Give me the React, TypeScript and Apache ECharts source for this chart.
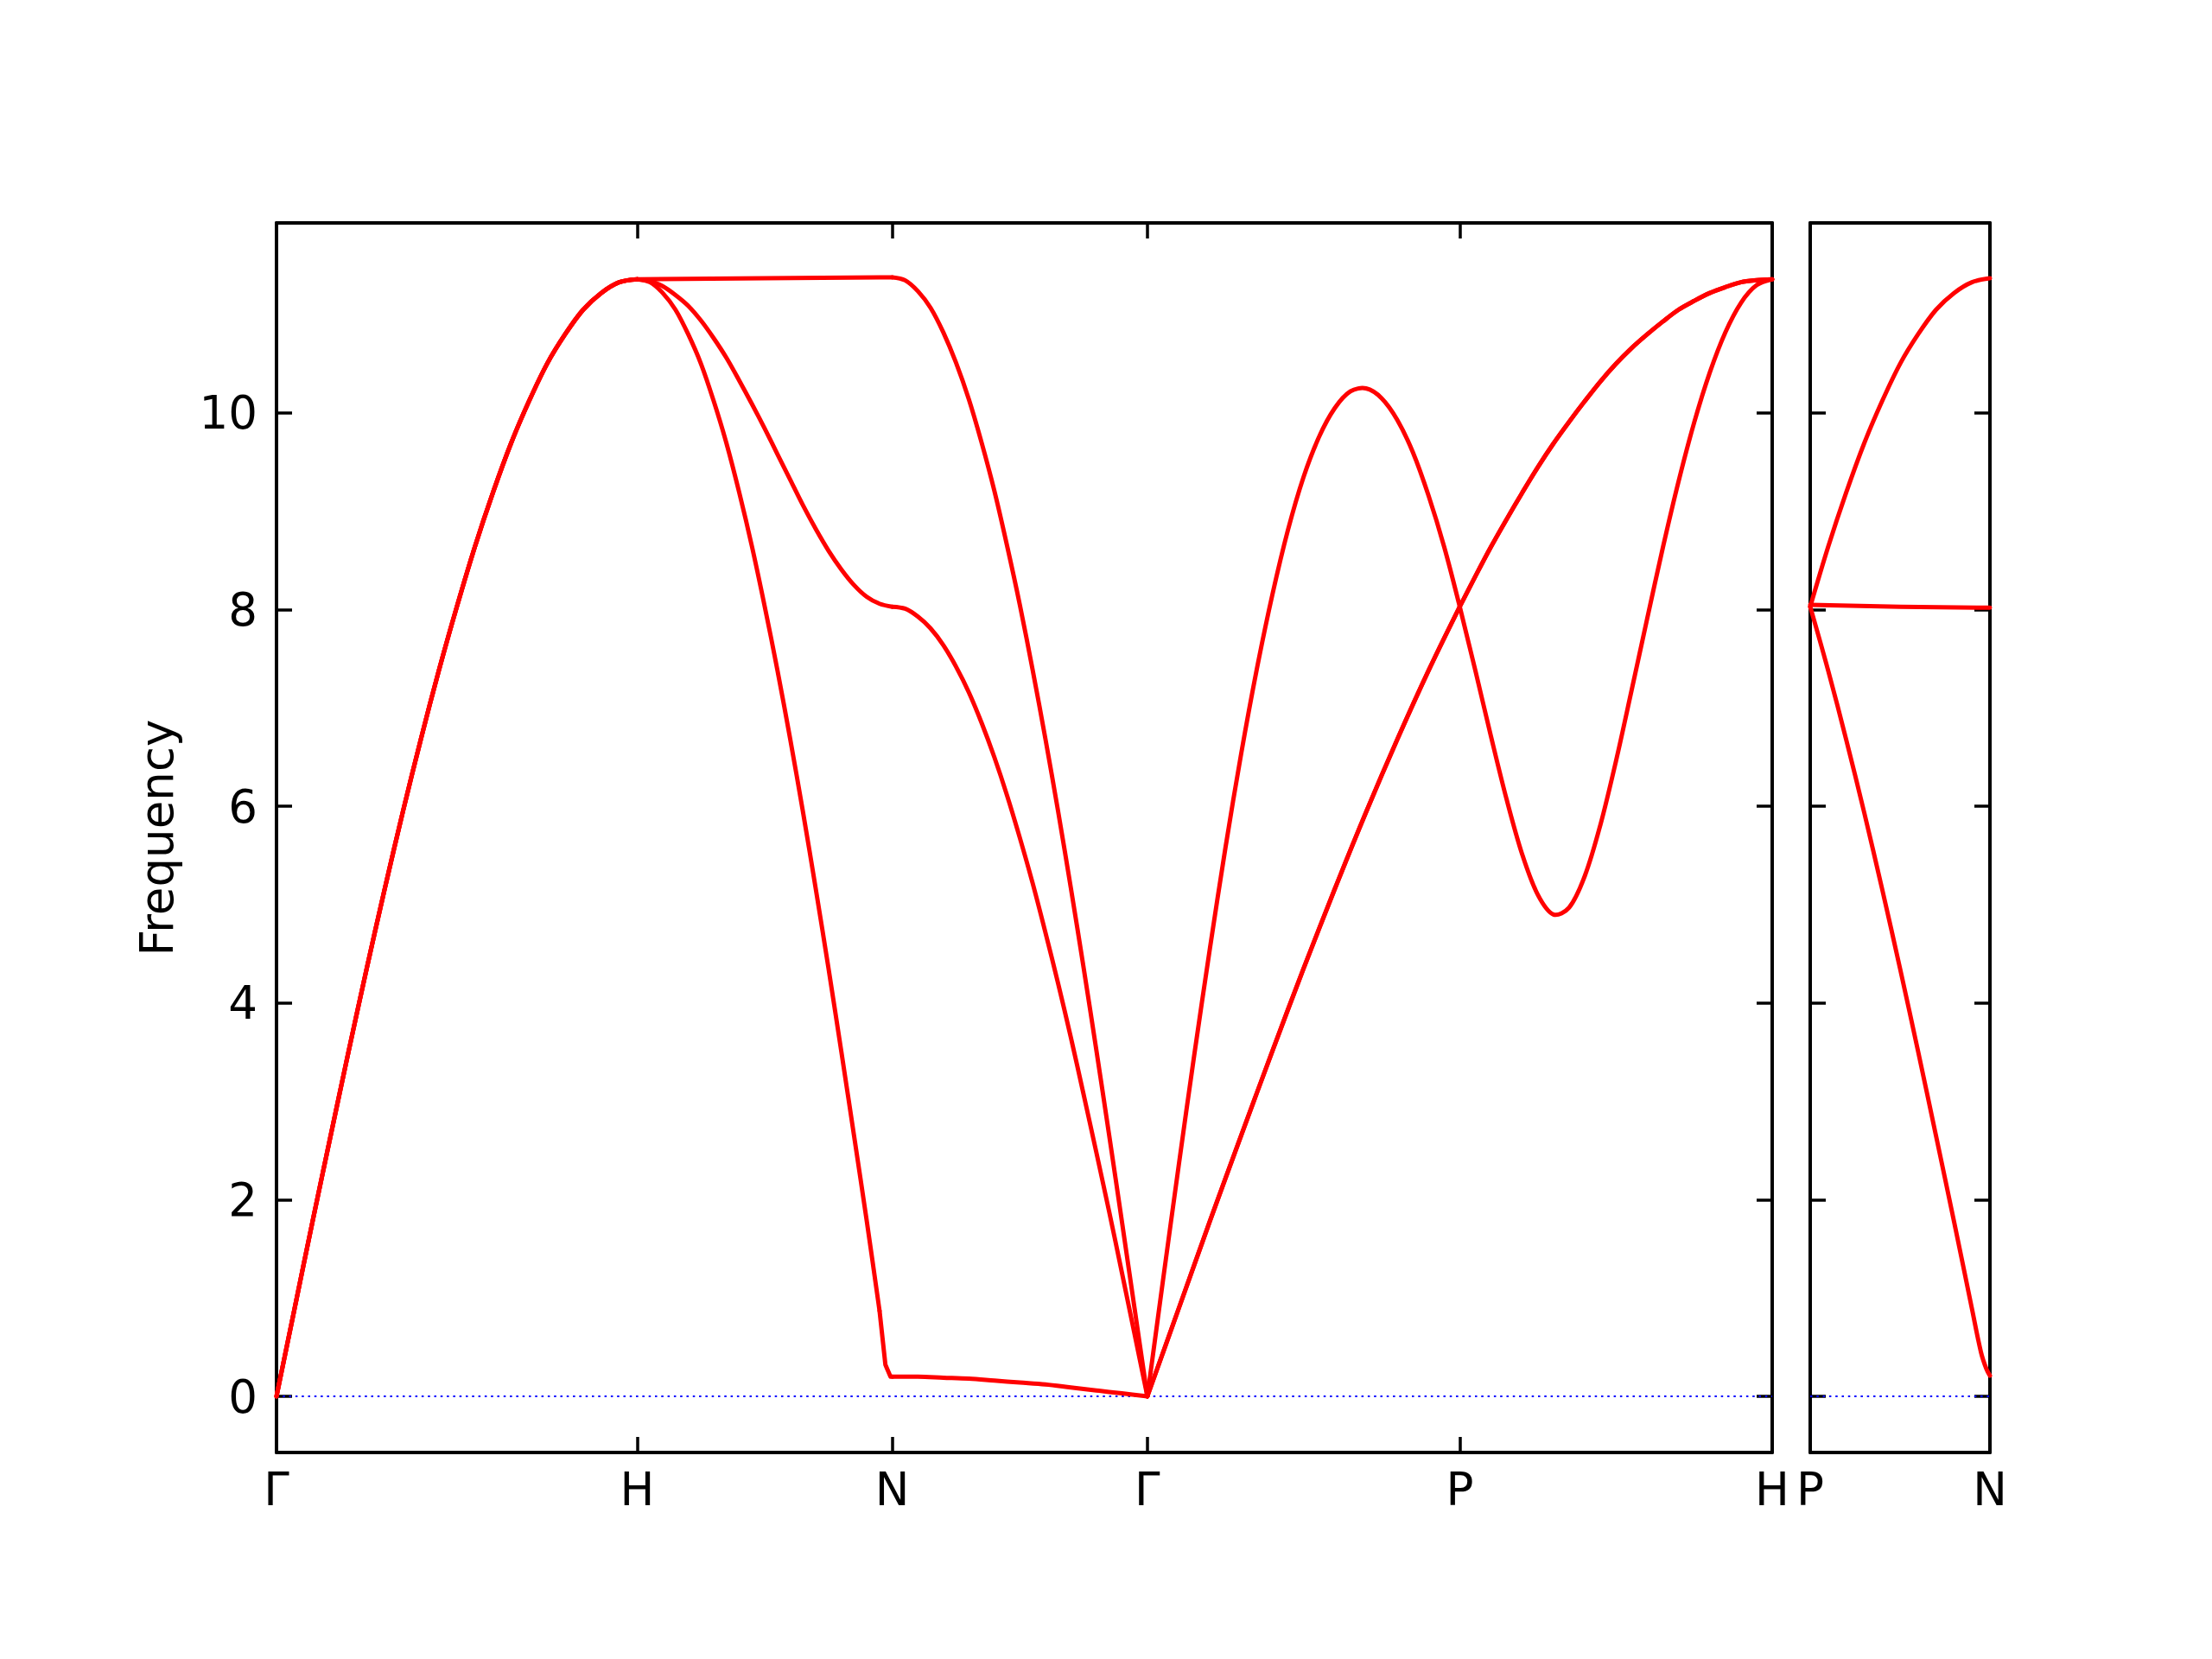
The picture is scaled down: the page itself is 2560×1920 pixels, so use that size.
import React, { useEffect, useRef } from "react";
import * as echarts from "echarts";

// High-symmetry points (path distance, 2π/a units)
const KX = [0, 1, 1.7071, 2.4142, 3.2802, 4.1463];
const KL = ["Γ", "H", "N", "Γ", "P", "H"];
const KX2 = [0, 0.5];
const KL2 = ["P", "N"];
const Y_TICKS = [0, 2, 4, 6, 8, 10];
const Y_MIN = -0.571;
const Y_MAX = 11.933;

// sample fractions along each segment
const F3 = [0, 0.5, 1];
const F11 = [0, 0.1, 0.2, 0.3, 0.4, 0.5, 0.6, 0.7, 0.8, 0.9, 1];
const F21 = [0, 0.05, 0.1, 0.15, 0.2, 0.25, 0.3, 0.35, 0.4, 0.45, 0.5, 0.55, 0.6, 0.65, 0.7, 0.75, 0.8, 0.85, 0.9, 0.95, 1];
const F_HN_LOW = [0, 0.05, 0.1, 0.15, 0.2, 0.25, 0.3, 0.35, 0.4, 0.45, 0.5, 0.55, 0.6, 0.65, 0.7, 0.75, 0.8, 0.85, 0.9, 0.95];
const F_HN_TAIL = [0.95, 0.973, 0.993, 1];
const F_PN_LOW = [0, 0.1, 0.2, 0.3, 0.4, 0.5, 0.6, 0.7, 0.8, 0.9, 0.95, 0.98, 1];

// Γ–H (three degenerate branches)
const GH = [0, 0.89, 1.78, 2.65, 3.51, 4.35, 5.16, 5.94, 6.68, 7.38, 8.03, 8.64, 9.19, 9.69, 10.12, 10.5, 10.8, 11.05, 11.22, 11.33, 11.36];
// H–N
const HN_TOP = [11.36, 11.37, 11.38];
const HN_MID = [11.36, 11.34, 11.29, 11.2, 11.09, 10.94, 10.76, 10.56, 10.33, 10.09, 9.84, 9.58, 9.32, 9.06, 8.82, 8.6, 8.41, 8.25, 8.13, 8.06, 8.03];
const HN_LOW = [11.36, 11.33, 11.22, 11.05, 10.8, 10.5, 10.12, 9.69, 9.19, 8.64, 8.03, 7.38, 6.68, 5.94, 5.16, 4.35, 3.51, 2.65, 1.78, 0.87];
const HN_TAIL = [0.87, 0.32, 0.2, 0.2];
// N–Γ
const NG_TOP = [11.38, 11.35, 11.24, 11.07, 10.82, 10.51, 10.14, 9.7, 9.21, 8.65, 8.05, 7.39, 6.69, 5.95, 5.17, 4.36, 3.52, 2.66, 1.78, 0.89, 0];
const NG_MID = [8.03, 8.01, 7.93, 7.81, 7.64, 7.42, 7.16, 6.85, 6.5, 6.11, 5.68, 5.22, 4.72, 4.2, 3.65, 3.07, 2.48, 1.88, 1.26, 0.63, 0];
const NG_LOW = [0.2, 0.2, 0.19, 0.18, 0.16, 0.14, 0.12, 0.09, 0.06, 0.03, 0];
// Γ–P
const GP_L = [0, 1.18, 2.34, 3.47, 4.55, 5.58, 6.53, 7.39, 8.15, 8.81, 9.35, 9.76, 10.05, 10.22, 10.25, 10.15, 9.93, 9.6, 9.16, 8.64, 8.03];
const GP_T = [0, 0.89, 1.78, 2.65, 3.51, 4.35, 5.16, 5.94, 6.68, 7.38, 8.03];
// P–H
const PH_L = [8.03, 7.38, 6.71, 6.07, 5.51, 5.1, 4.9, 4.97, 5.29, 5.81, 6.46, 7.18, 7.91, 8.63, 9.3, 9.9, 10.41, 10.82, 11.12, 11.3, 11.36];
const PH_T = [8.03, 8.34, 8.64, 8.92, 9.19, 9.45, 9.69, 9.91, 10.12, 10.32, 10.5, 10.66, 10.8, 10.93, 11.05, 11.14, 11.22, 11.28, 11.33, 11.35, 11.36];
// P–N (second panel)
const PN_TOP = [8.03, 8.64, 9.19, 9.69, 10.12, 10.5, 10.8, 11.05, 11.22, 11.33, 11.37];
const PN_MID = [8.05, 8.03, 8.02];
const PN_LOW = [8.03, 7.38, 6.68, 5.94, 5.16, 4.35, 3.51, 2.65, 1.78, 0.89, 0.45, 0.28, 0.21];

const FONT = "DejaVu Sans";
const RED = "#ff0000";

function seg(x0: number, x1: number, fr: number[], vals: number[]) {
  return fr.map((f, i) => [x0 + f * (x1 - x0), vals[i]]);
}

// Each band branch drawn as one smooth polyline through the library's coordinate system
function bandSeries(data: number[][], axisIdx: number, smooth = 0.33) {
  return {
    type: "custom",
    coordinateSystem: "cartesian2d",
    xAxisIndex: axisIdx,
    yAxisIndex: axisIdx,
    data,
    encode: { x: 0, y: 1 },
    clip: false,
    silent: true,
    z: 3,
    renderItem: (params: any, api: any) => {
      if (params.dataIndex !== 0) return null;
      const pts = data.map((p) => api.coord(p));
      return {
        type: "polyline",
        silent: true,
        shape: { points: pts, smooth },
        style: { fill: "none", stroke: RED, lineWidth: 5, lineJoin: "round", lineCap: "round" },
      };
    },
  };
}

function labelFor(ks: number[], ls: string[]) {
  return (v: number) => {
    const i = ks.findIndex((k) => Math.abs(k - v) < 1e-6);
    return i >= 0 ? ls[i] : "";
  };
}

const AXIS_LINE = { show: true, onZero: false, lineStyle: { color: "#000", width: 4 } };

function xAxes(grid: number, ks: number[], ls: string[]) {
  const common = {
    gridIndex: grid,
    type: "value",
    min: ks[0],
    max: ks[ks.length - 1],
    splitLine: { show: false },
    axisLine: AXIS_LINE,
    axisTick: {
      show: true,
      inside: true,
      length: 18,
      customValues: ks,
      lineStyle: { color: "#000", width: 3.5 },
    },
  };
  return [
    {
      ...common,
      position: "bottom",
      axisLabel: {
        show: true,
        customValues: ks,
        formatter: labelFor(ks, ls),
        fontSize: 53,
        fontFamily: FONT,
        color: "#000",
        margin: 16,
        showMinLabel: true,
        showMaxLabel: true,
        hideOverlap: false,
      },
    },
    { ...common, position: "top", axisLabel: { show: false } },
  ];
}

function yAxes(grid: number, withLabels: boolean) {
  const common = {
    gridIndex: grid,
    type: "value",
    min: Y_MIN,
    max: Y_MAX,
    splitLine: { show: false },
    axisLine: AXIS_LINE,
    axisTick: {
      show: true,
      inside: true,
      length: 18,
      customValues: Y_TICKS,
      lineStyle: { color: "#000", width: 3.5 },
    },
  };
  const left: any = {
    ...common,
    position: "left",
    axisLabel: withLabels
      ? {
          show: true,
          customValues: Y_TICKS,
          fontSize: 53,
          fontFamily: FONT,
          color: "#000",
          margin: 22,
        }
      : { show: false },
  };
  if (withLabels) {
    left.name = "Frequency";
    left.nameLocation = "middle";
    left.nameRotate = 90;
    left.nameGap = 112;
    left.nameTextStyle = { fontSize: 53, fontFamily: FONT, color: "#000" };
  }
  return [left, { ...common, position: "right", axisLabel: { show: false } }];
}

export default function App() {
  const ref = useRef<HTMLDivElement>(null);
  useEffect(() => {
    if (!ref.current) return;
    const chart = echarts.init(ref.current, undefined, { renderer: "svg" });
    const [G0, H1, N1, G1, P1, H2] = KX;
    const series: any[] = [];
    const zeroStyle = { color: "#0000ff", width: 2, type: [2.5, 4.8] };
    series.push({
      type: "line",
      xAxisIndex: 0,
      yAxisIndex: 0,
      data: [[KX[0], 0], [KX[KX.length - 1], 0]],
      showSymbol: false,
      symbol: "none",
      silent: true,
      z: 2,
      lineStyle: zeroStyle,
    });
    series.push({
      type: "line",
      xAxisIndex: 2,
      yAxisIndex: 2,
      data: [[KX2[0], 0], [KX2[1], 0]],
      showSymbol: false,
      symbol: "none",
      silent: true,
      z: 2,
      lineStyle: zeroStyle,
    });
    // Γ–H (triply degenerate)
    for (let k = 0; k < 3; k++) series.push(bandSeries(seg(G0, H1, F21, GH), 0));
    // H–N
    series.push(bandSeries(seg(H1, N1, F3, HN_TOP), 0, 0));
    series.push(bandSeries(seg(H1, N1, F21, HN_MID), 0));
    series.push(bandSeries(seg(H1, N1, F_HN_LOW, HN_LOW), 0));
    series.push(bandSeries(seg(H1, N1, F_HN_TAIL, HN_TAIL), 0, 0));
    // N–Γ
    series.push(bandSeries(seg(N1, G1, F21, NG_TOP), 0));
    series.push(bandSeries(seg(N1, G1, F21, NG_MID), 0));
    series.push(bandSeries(seg(N1, G1, F11, NG_LOW), 0));
    // Γ–P
    series.push(bandSeries(seg(G1, P1, F21, GP_L), 0));
    for (let k = 0; k < 2; k++) series.push(bandSeries(seg(G1, P1, F11, GP_T), 0));
    // P–H
    series.push(bandSeries(seg(P1, H2, F21, PH_L), 0));
    for (let k = 0; k < 2; k++) series.push(bandSeries(seg(P1, H2, F21, PH_T), 0));
    // P–N panel
    series.push(bandSeries(seg(KX2[0], KX2[1], F11, PN_TOP), 2));
    series.push(bandSeries(seg(KX2[0], KX2[1], F3, PN_MID), 2, 0));
    series.push(bandSeries(seg(KX2[0], KX2[1], F_PN_LOW, PN_LOW), 2));

    chart.setOption({
      animation: false,
      backgroundColor: "#ffffff",
      textStyle: { fontFamily: FONT },
      grid: [
        { left: 320, top: 258, width: 1731, height: 1423, containLabel: false },
        { left: 2095, top: 258, width: 208, height: 1423, containLabel: false },
      ],
      xAxis: [...xAxes(0, KX, KL), ...xAxes(1, KX2, KL2)],
      yAxis: [...yAxes(0, true), ...yAxes(1, false)],
      series,
    });
    return () => chart.dispose();
  }, []);
  return (
    <div
      ref={ref}
      style={{ position: "fixed", left: 0, top: 0, width: 2560, height: 1920, background: "#fff" }}
    />
  );
}
